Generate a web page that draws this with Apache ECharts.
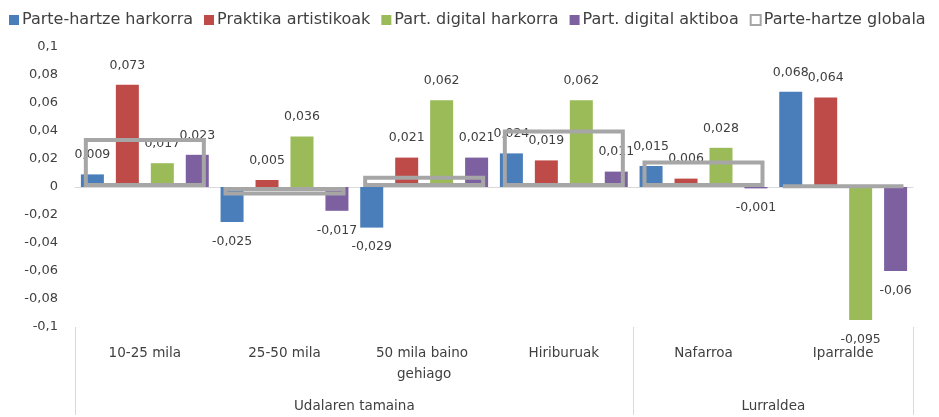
<!DOCTYPE html>
<html>
<head>
<meta charset="utf-8">
<script src="https://cdn.jsdelivr.net/npm/echarts@6/dist/echarts.min.js"></script>
<style>
  html, body { margin: 0; padding: 0; background: #fff; }
  #main { width: 939px; height: 417px; }
</style>
</head>
<body>
<div id="main"></div>
<script>
// datuak
var categories = ['10-25 mila', '25-50 mila', '50 mila baino gehiago', 'Hiriburuak', 'Nafarroa', 'Iparralde'];
var groups = ['Udalaren tamaina', 'Lurraldea'];
var groupSpans = [4, 2];
var seriesNames = ['Parte-hartze harkorra', 'Praktika artistikoak', 'Part. digital harkorra', 'Part. digital aktiboa', 'Parte-hartze globala'];
var harkorra = [0.009, -0.025, -0.029, 0.024, 0.015, 0.068];
var artistikoak = [0.073, 0.005, 0.021, 0.019, 0.006, 0.064];
var digitalHarkorra = [0.017, 0.036, 0.062, 0.062, 0.028, -0.095];
var digitalAktiboa = [0.023, -0.017, 0.021, 0.011, -0.001, -0.06];
var globala = [0.035, -0.006, 0.008, 0.041, 0.019, 0.001];
var yTicks = [-0.1, -0.08, -0.06, -0.04, -0.02, 0, 0.02, 0.04, 0.06, 0.08, 0.1];

var colors = ['#4a7ebb', '#be4b48', '#9bbb59', '#7d60a0'];
var gray = '#a6a6a6';
var txt = '#404040';
var font = 'DejaVu Sans';

function fmt(v) {
  return String(+(+v).toFixed(3)).replace('.', ',');
}

// taldeen ertzak eta erdiak
var groupEdges = [0], groupMids = [];
var acc = 0;
for (var g = 0; g < groupSpans.length; g++) {
  groupMids.push(acc + groupSpans[g] / 2);
  acc += groupSpans[g];
  groupEdges.push(acc);
}

function barSeries(name, values, color) {
  return {
    name: name,
    type: 'bar',
    xAxisIndex: 0,
    barWidth: 23,
    barGap: '52%',
    itemStyle: { color: color },
    z: 2,
    data: values.map(function (v) {
      return {
        value: v,
        label: { position: v >= 0 ? 'top' : 'bottom' }
      };
    }),
    label: {
      show: true,
      distance: 13,
      color: txt,
      fontFamily: font,
      fontSize: 12.5,
      formatter: function (p) { return fmt(p.value); }
    }
  };
}

var chart = echarts.init(document.getElementById('main'));
var option = {
  backgroundColor: '#fff',
  textStyle: { fontFamily: font },
  legend: {
    top: 7,
    left: 4,
    itemWidth: 10,
    itemHeight: 10,
    itemGap: 11,
    textStyle: { fontFamily: font, fontSize: 16, color: txt, padding: [0, 0, 0, -2] },
    data: [
      { name: seriesNames[0], icon: 'rect' },
      { name: seriesNames[1], icon: 'rect' },
      { name: seriesNames[2], icon: 'rect' },
      { name: seriesNames[3], icon: 'rect' },
      { name: seriesNames[4], icon: 'rect', itemStyle: { color: '#fff', borderColor: gray, borderWidth: 2 } }
    ]
  },
  grid: { left: 75, right: 26, top: 47, bottom: 90, containLabel: false },
  xAxis: [
    {
      type: 'category',
      data: categories,
      position: 'bottom',
      axisLine: { show: false, onZero: false },
      axisTick: { show: false },
      axisLabel: {
        interval: 0,
        margin: 16,
        color: txt,
        fontFamily: font,
        fontSize: 13.5,
        lineHeight: 21,
        width: 118,
        overflow: 'break'
      }
    },
    {
      type: 'category',
      data: categories,
      axisLine: { show: true, onZero: true, lineStyle: { color: '#d9d9d9', width: 1 } },
      axisTick: { show: false },
      axisLabel: { show: false }
    },
    {
      type: 'value',
      min: 0,
      max: 6,
      position: 'bottom',
      axisLine: { show: false, onZero: false },
      splitLine: { show: false },
      axisTick: {
        show: true,
        customValues: groupEdges,
        length: 88,
        lineStyle: { color: '#d9d9d9', width: 1 }
      },
      axisLabel: {
        customValues: groupMids,
        margin: 72,
        color: txt,
        fontFamily: font,
        fontSize: 13.5,
        formatter: function (v) { return groups[groupMids.indexOf(v)]; }
      }
    }
  ],
  yAxis: {
    type: 'value',
    min: -0.1,
    max: 0.1,
    interval: 0.02,
    axisLine: { show: false },
    axisTick: { show: false },
    splitLine: { show: false },
    axisLabel: {
      margin: 17,
      color: txt,
      fontFamily: font,
      fontSize: 13,
      customValues: yTicks,
      formatter: function (v) { return fmt(v); }
    }
  },
  series: [
    barSeries(seriesNames[0], harkorra, colors[0]),
    barSeries(seriesNames[1], artistikoak, colors[1]),
    barSeries(seriesNames[2], digitalHarkorra, colors[2]),
    barSeries(seriesNames[3], digitalAktiboa, colors[3]),
    {
      name: seriesNames[4],
      type: 'bar',
      xAxisIndex: 1,
      barWidth: 122,
      z: 5,
      itemStyle: { color: 'rgba(0,0,0,0)', borderColor: gray, borderWidth: 4 },
      data: globala
    }
  ]
};
chart.setOption(option);
</script>
</body>
</html>
